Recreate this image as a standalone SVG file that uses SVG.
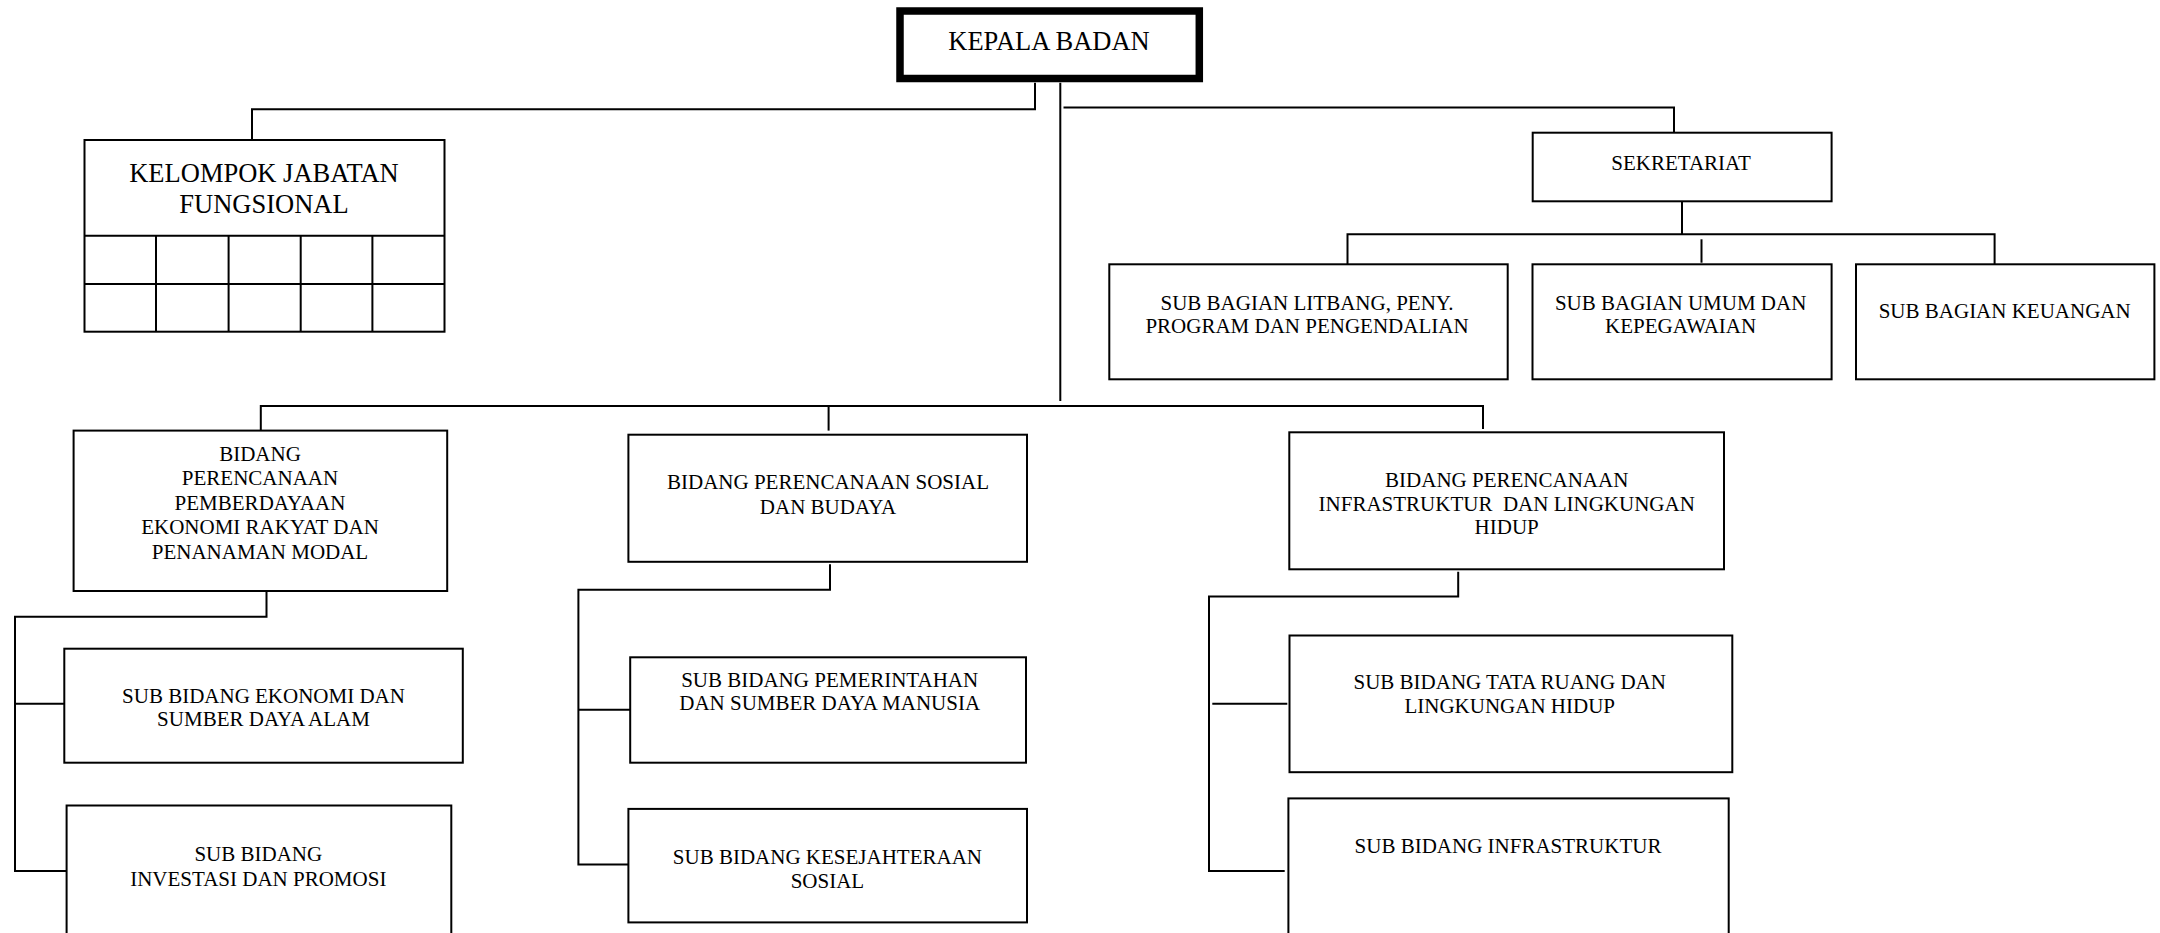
<svg xmlns="http://www.w3.org/2000/svg" width="2160" height="933" viewBox="0 0 2160 933">
<style>
.box{fill:#fff;stroke:#000;stroke-width:2}
.head{fill:#fff;stroke:#000;stroke-width:7.5}
.conn path{fill:none;stroke:#000;stroke-width:2}
.grid{stroke:#000;stroke-width:2}
text{font-family:"Liberation Serif","Times New Roman",serif;fill:#000;text-anchor:middle;font-size:21px}
.big{font-size:26.5px}
</style>
<rect width="2160" height="933" fill="#fff"/>
<g id="connectors" class="conn">
<path d="M1035,82.7 V109.3 H252 V140"/>
<path d="M1060.3,82.7 V401"/>
<path d="M1063.5,107.5 H1674 V132.7"/>
<path d="M1682,201.3 V234.3"/>
<path d="M1347.5,264.3 V234.3 H1994.6 V264.3"/>
<path d="M1701.5,239.3 V262.7"/>
<path d="M260.8,430.6 V406 H1483 V429"/>
<path d="M828.6,406 V430.6"/>
<path d="M266.5,591 V616.8 H15 V871 H66.6"/>
<path d="M15,703.7 H64.3"/>
<path d="M830,564.2 V589.7 H578.4 V864.6 H628.4"/>
<path d="M578.4,709.7 H630.2"/>
<path d="M1458.2,571.7 V596.5 H1209 V871.1 H1284.7"/>
<path d="M1212.3,703.8 H1287.3"/>
</g>
<g id="kepala-badan">
<rect class="head" x="900" y="11" width="299.3" height="67.5"/>
<text class="big" x="1049" y="50">KEPALA BADAN</text>
</g>
<g id="kelompok-jabatan-fungsional">
<rect class="box" x="84.5" y="140" width="360" height="191.7"/>
<path class="grid" d="M84.5,235.7 H444.5 M84.5,284 H444.5 M156,235.7 V331.7 M228.6,235.7 V331.7 M300.7,235.7 V331.7 M372.4,235.7 V331.7"/>
<text class="big" x="264" y="181.7">KELOMPOK JABATAN</text>
<text class="big" x="264" y="213.3">FUNGSIONAL</text>
</g>
<g id="sekretariat">
<rect class="box" x="1532.7" y="132.7" width="298.9" height="68.6"/>
<text x="1681" y="170">SEKRETARIAT</text>
</g>
<g id="sub-bagian-litbang">
<rect class="box" x="1109.3" y="264.3" width="398.4" height="115"/>
<text x="1307" y="310">SUB BAGIAN LITBANG, PENY.</text>
<text x="1307" y="333.3">PROGRAM DAN PENGENDALIAN</text>
</g>
<g id="sub-bagian-umum">
<rect class="box" x="1532.5" y="264.3" width="299.1" height="115"/>
<text x="1680.6" y="310">SUB BAGIAN UMUM DAN</text>
<text x="1680.6" y="333.3">KEPEGAWAIAN</text>
</g>
<g id="sub-bagian-keuangan">
<rect class="box" x="1856" y="264.3" width="298.4" height="115"/>
<text x="2004.7" y="318.3">SUB BAGIAN KEUANGAN</text>
</g>
<g id="bidang-ekonomi">
<rect class="box" x="73.6" y="430.6" width="373.6" height="160.4"/>
<text x="260" y="461">BIDANG</text>
<text x="260" y="485.4">PERENCANAAN</text>
<text x="260" y="509.8">PEMBERDAYAAN</text>
<text x="260" y="534.2">EKONOMI RAKYAT DAN</text>
<text x="260" y="558.6">PENANAMAN MODAL</text>
</g>
<g id="sub-bidang-ekonomi">
<rect class="box" x="64.3" y="648.7" width="398.5" height="114"/>
<text x="263.5" y="702.5">SUB BIDANG EKONOMI DAN</text>
<text x="263.5" y="726.3">SUMBER DAYA ALAM</text>
</g>
<g id="sub-bidang-investasi">
<rect class="box" x="66.6" y="805.5" width="384.7" height="140"/>
<text x="258.3" y="861.3">SUB BIDANG</text>
<text x="258.3" y="886.1">INVESTASI DAN PROMOSI</text>
</g>
<g id="bidang-sosial">
<rect class="box" x="628.4" y="434.7" width="398.6" height="127.1"/>
<text x="828" y="489">BIDANG PERENCANAAN SOSIAL</text>
<text x="828" y="513.9">DAN BUDAYA</text>
</g>
<g id="sub-bidang-pemerintahan">
<rect class="box" x="630.2" y="657.3" width="395.8" height="105.4"/>
<text x="829.7" y="686.5">SUB BIDANG PEMERINTAHAN</text>
<text x="829.7" y="710.3">DAN SUMBER DAYA MANUSIA</text>
</g>
<g id="sub-bidang-kesejahteraan">
<rect class="box" x="628.4" y="808.9" width="398.6" height="113.5"/>
<text x="827.4" y="864">SUB BIDANG KESEJAHTERAAN</text>
<text x="827.4" y="887.8">SOSIAL</text>
</g>
<g id="bidang-infrastruktur">
<rect class="box" x="1289.3" y="432.3" width="434.7" height="137"/>
<text x="1506.7" y="486.7">BIDANG PERENCANAAN</text>
<text x="1506.7" y="510.5" xml:space="preserve">INFRASTRUKTUR  DAN LINGKUNGAN</text>
<text x="1506.7" y="534.3">HIDUP</text>
</g>
<g id="sub-bidang-tata-ruang">
<rect class="box" x="1289.5" y="635.5" width="442.8" height="136.7"/>
<text x="1509.7" y="688.9">SUB BIDANG TATA RUANG DAN</text>
<text x="1509.7" y="712.7">LINGKUNGAN HIDUP</text>
</g>
<g id="sub-bidang-infrastruktur">
<rect class="box" x="1288.4" y="798.4" width="440.3" height="147"/>
<text x="1508" y="852.8">SUB BIDANG INFRASTRUKTUR</text>
</g>
</svg>
